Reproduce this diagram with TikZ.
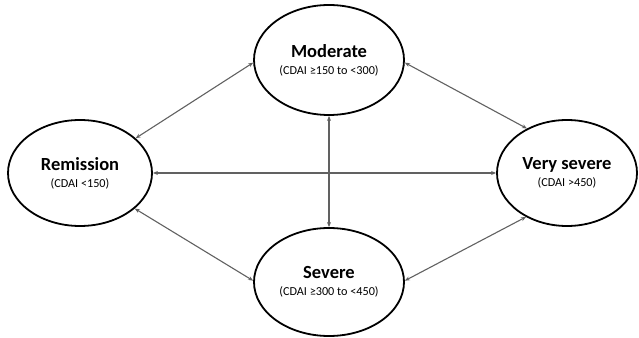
\documentclass[tikz,border=0pt]{standalone}
\usepackage{fontspec}
\setmainfont{Carlito}
\usetikzlibrary{arrows.meta,shapes.geometric}

\newcommand{\statetext}[2]{{\fontsize{18.5}{20}\selectfont\bfseries #1}\\[5pt]{\fontsize{12.2}{14}\selectfont #2}}

\tikzset{
  state/.style={draw=black, line width=1.8pt, ellipse, align=center, inner sep=0pt, fill=white},
  link/.style={{Stealth[length=5pt,width=4pt]}-{Stealth[length=5pt,width=4pt]}, draw=black!62, line width=1.1pt}
}

\begin{document}
\begin{tikzpicture}[x=1pt,y=1pt]
\useasboundingbox (0,0) rectangle (639,337);
\node[state, minimum width=150pt, minimum height=110pt] (mod) at (329,277) {\statetext{Moderate}{(CDAI ≥150 to <300)}};
\node[state, minimum width=144pt, minimum height=106pt] (rem) at (80,164) {\statetext{Remission}{(CDAI <150)}};
\node[state, minimum width=140pt, minimum height=106pt] (vsev) at (567,164) {\statetext{Very severe}{(CDAI >450)}};
\node[state, minimum width=150pt, minimum height=108pt] (sev) at (329,55) {\statetext{Severe}{(CDAI ≥300 to <450)}};
\draw[link] (rem.32) -- (mod.182);
\draw[link] (mod.-2) -- (vsev.132);
\draw[link] (rem.east) -- (vsev.west);
\draw[link] (mod.south) -- (sev.north);
\draw[link] (rem.-33) -- (sev.179);
\draw[link] (sev.1) -- (vsev.227);
\end{tikzpicture}
\end{document}
